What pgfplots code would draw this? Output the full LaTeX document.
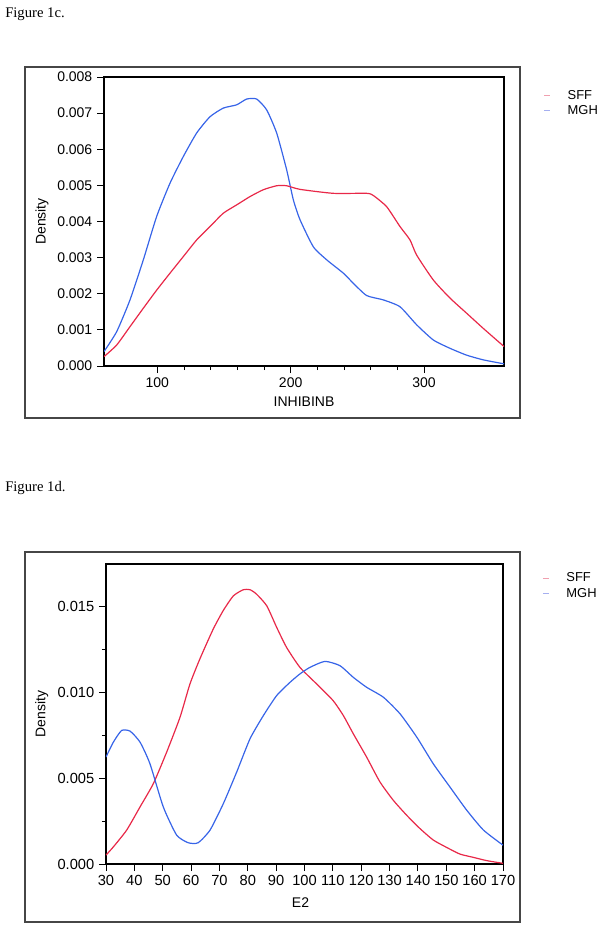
\documentclass[border=0pt]{standalone}
\usepackage{pgfplots}
\pgfplotsset{compat=1.18}
\usepackage{fontspec}
\setmainfont{Liberation Sans}
\newfontfamily\serifff{Liberation Serif}
\definecolor{cred}{RGB}{232,40,72}
\definecolor{cblue}{RGB}{55,100,232}
\definecolor{lred}{RGB}{240,160,175}
\definecolor{lblue}{RGB}{165,175,240}
\definecolor{framec}{RGB}{70,70,70}
\pgfplotsset{
  mystyle/.style={
    scale only axis,
    axis line style={line width=0.8pt},
    tick align=outside,
    tick style={black, line width=0.7pt},
    major tick length=5.25pt,
    minor tick length=3pt,
    xtick pos=bottom, ytick pos=left,
    tick label style={font=\fontsize{10.5}{12}\selectfont},
    label style={font=\fontsize{10.5}{12}\selectfont},
    /pgf/number format/assume math mode=true,
    legend style={draw=none, fill=none, font=\fontsize{9.7}{11}\selectfont, row sep=-1pt, inner sep=0pt},
    legend cell align=left,
    legend image code/.code={\draw[#1, line width=0.6pt] (0.05cm,0cm) -- (0.2cm,0cm); \path[draw=none, fill=none] (0cm,0cm) -- (0.6cm,0cm);},
  }
}
\pgfplotstableread{
x y
60 0.0004
69.5 0.00095
79.5 0.00183
89.5 0.00294
99.5 0.00414
109.5 0.00506
119.5 0.0058
129.5 0.00645
139.5 0.0069
149.5 0.00714
159.5 0.00723
167 0.00739
174.5 0.00739
182 0.00709
189.5 0.00645
197 0.00543
202 0.0046
207 0.00405
217 0.0033
227 0.00294
239.5 0.00257
247 0.00229
257 0.00195
269.5 0.00183
282 0.00164
294.5 0.00114
307 0.00072
319.5 0.00049
332 0.0003
344.5 0.00017
360 0.00006
}\inhmgh
\pgfplotstableread{
x y
60 0.00026
69.5 0.00058
79.5 0.00109
89.5 0.0016
99.5 0.0021
109.5 0.00257
119.5 0.00303
129.5 0.00349
139.5 0.00386
149.5 0.00423
159.5 0.00446
169.5 0.00469
179.5 0.00488
189.5 0.00499
197 0.00499
207 0.00489
232 0.00478
257 0.00478
262 0.00472
272 0.00441
282 0.00386
289.5 0.00349
294.5 0.00307
307 0.00238
319.5 0.00188
332 0.00146
344.5 0.00104
360 0.00054
}\inhsff
\pgfplotstableread{
x y
30 0.00052
32.6 0.001
37.3 0.00198
42 0.00333
46.7 0.00469
51.4 0.00653
56.1 0.00856
59.6 0.0105
63.1 0.01196
67.8 0.0137
71.4 0.0148
74.9 0.01564
78.4 0.016
80.8 0.016
83.1 0.01574
86.7 0.01506
90.2 0.0138
93.7 0.01263
98.4 0.01147
104.3 0.0105
110.1 0.00953
113.7 0.00866
117.2 0.0076
121.9 0.00624
126.6 0.00479
131.3 0.00372
136.0 0.00285
140.7 0.00207
145.4 0.0014
150.1 0.00097
154.8 0.00058
159.5 0.00039
164.2 0.0002
170 0.00004
}\esff
\pgfplotstableread{
x y
30 0.00624
32.6 0.00711
35.5 0.00779
38.5 0.00775
42 0.00711
45.5 0.00585
50.2 0.00333
54.9 0.00169
59 0.00124
62.5 0.00124
66.7 0.00198
71.4 0.00353
76.1 0.00537
80.8 0.00731
85.5 0.00866
90.2 0.00983
94.9 0.0106
98.4 0.01109
101.9 0.01147
107.2 0.01182
112.5 0.01157
117.2 0.01089
121.9 0.01031
127.8 0.00973
133.7 0.00876
139.6 0.0074
145.4 0.00585
151.3 0.00449
157.2 0.00314
163.1 0.00198
170 0.0011
}\emgh
\begin{document}
\begin{tikzpicture}
\path[use as bounding box] (0pt,0pt) rectangle (451.5pt,-696.75pt);
\node[anchor=base west, inner sep=0pt, font=\serifff\fontsize{11}{13}\selectfont] at (3.75pt,-12.75pt) {Figure 1c.};
\node[anchor=base west, inner sep=0pt, font=\serifff\fontsize{11}{13}\selectfont] at (3.75pt,-368.5pt) {Figure 1d.};
\draw[framec, line width=1pt] (18.75pt,-50.25pt) rectangle (390pt,-313.5pt);
\draw[framec, line width=1pt] (18.75pt,-414pt) rectangle (390pt,-691.5pt);
\begin{axis}[mystyle,
  at={(78pt,-274.5pt)}, anchor=south west,
  width=300pt, height=216.75pt,
  xmin=60, xmax=360, ymin=0, ymax=0.008,
  xtick={100,200,300}, minor x tick num=4,
  ytick={0,0.001,0.002,0.003,0.004,0.005,0.006,0.007,0.008},
  scaled y ticks=false,
  yticklabel style={/pgf/number format/.cd, fixed, fixed zerofill, precision=3},
  xlabel={INHIBINB}, ylabel={Density},
  xlabel style={at={(axis description cs:0.5,-0.1235)}, anchor=center},
  ylabel style={at={(axis description cs:-0.155,0.5)}, anchor=center},
  legend style={at={(1.095,0.965)}, anchor=north west},
]
\addplot[cblue, line width=0.9pt, smooth, tension=0.35, forget plot] table {\inhmgh};
\addplot[cred, line width=0.9pt, smooth, tension=0.35, forget plot] table {\inhsff};
\addlegendimage{lred}
\addlegendentry{SFF}
\addlegendimage{lblue}
\addlegendentry{MGH}
\end{axis}
\begin{axis}[mystyle,
  at={(79.5pt,-648pt)}, anchor=south west,
  width=297.75pt, height=225pt,
  xmin=30, xmax=170, ymin=0, ymax=0.0175,
  xtick={30,40,...,170},
  ytick={0,0.005,0.010,0.015}, minor y tick num=1,
  scaled y ticks=false,
  yticklabel style={/pgf/number format/.cd, fixed, fixed zerofill, precision=3},
  tick label style={font=\fontsize{11}{13}\selectfont},
  xlabel={E2}, ylabel={Density},
  xlabel style={at={(axis description cs:0.49,-0.13)}, anchor=center},
  ylabel style={at={(axis description cs:-0.162,0.5)}, anchor=center},
  legend style={at={(1.095,0.98)}, anchor=north west},
]
\addplot[cred, line width=0.9pt, smooth, tension=0.35, forget plot] table {\esff};
\addplot[cblue, line width=0.9pt, smooth, tension=0.35, forget plot] table {\emgh};
\addlegendimage{lred}
\addlegendentry{SFF}
\addlegendimage{lblue}
\addlegendentry{MGH}
\end{axis}
\end{tikzpicture}
\end{document}
